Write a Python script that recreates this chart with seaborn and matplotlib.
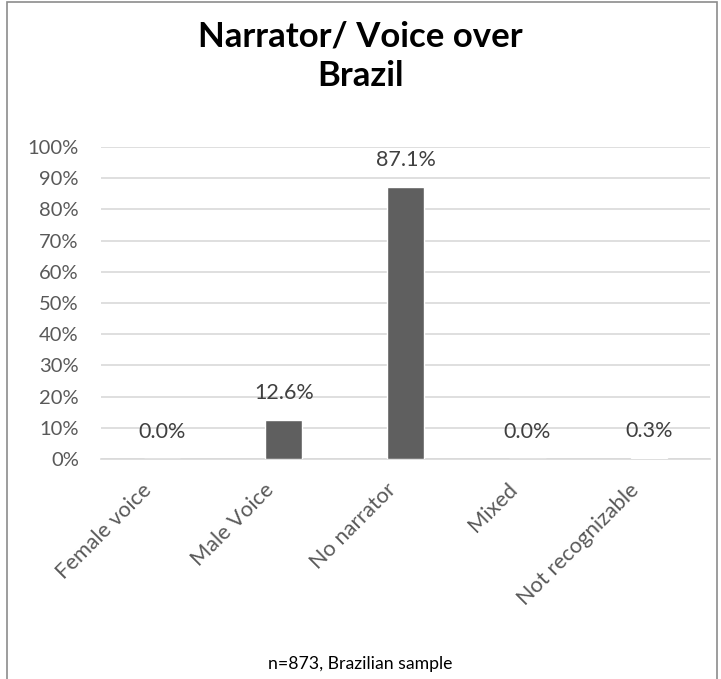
import matplotlib
matplotlib.use("Agg")
import matplotlib.pyplot as plt
import matplotlib.transforms as mtransforms
import seaborn as sns
import pandas as pd
from matplotlib.patches import Rectangle
from matplotlib.ticker import PercentFormatter

categories = ["Female voice", "Male Voice", "No narrator", "Mixed", "Not recognizable"]
shares = [0.0, 12.6, 87.1, 0.0, 0.3]
y_ticks = [0, 10, 20, 30, 40, 50, 60, 70, 80, 90, 100]

df = pd.DataFrame({"category": categories, "share": shares})

sns.set_theme(style="white")
plt.rcParams["font.family"] = ["Lato", "DejaVu Sans"]

W, H = 721, 679
fig = plt.figure(figsize=(W / 100, H / 100), dpi=100)
ax = fig.add_axes([101 / W, 1 - 459 / H, (710 - 101) / W, (459 - 147) / H])

sns.barplot(data=df, x="category", y="share", color="#5f5f5f", width=0.3,
            saturation=1, ax=ax, zorder=3)

ax.set_ylim(0, 100)
ax.set_yticks(y_ticks)
ax.yaxis.set_major_formatter(PercentFormatter(decimals=0))
ax.grid(axis="y", color="#d9d9d9", linewidth=1.2, zorder=0)
ax.set_axisbelow(True)
for side in ["left", "right", "top"]:
    ax.spines[side].set_visible(False)
ax.spines["bottom"].set_color("#d9d9d9")
ax.spines["bottom"].set_linewidth(1.2)
ax.set_xlabel("")
ax.set_ylabel("")
ax.tick_params(axis="y", length=0, labelsize=14.5, labelcolor="#595959", pad=16)
ax.tick_params(axis="x", length=0, labelsize=15.7, labelcolor="#595959", pad=20)

# rotated category labels, nudged so their ends sit under the category centres
shift = mtransforms.ScaledTranslation(-13 / 100, 0, fig.dpi_scale_trans)
for lbl in ax.get_xticklabels():
    lbl.set_rotation(45)
    lbl.set_ha("right")
    lbl.set_va("center")
    lbl.set_rotation_mode("anchor")
    lbl.set_transform(lbl.get_transform() + shift)

for i, v in enumerate(shares):
    ax.text(i, v + 5.5, f"{v:.1f}%", ha="center", va="bottom",
            fontsize=15.5, color="#404040")

fig.text(0.5, 1 - 36 / H, "Narrator/ Voice over", ha="center", va="center",
         fontsize=25, fontweight="bold", color="black")
fig.text(0.5, 1 - 76 / H, "Brazil", ha="center", va="center",
         fontsize=25, fontweight="bold", color="black")
fig.text(0.5, 1 - 664 / H, "n=873, Brazilian sample", ha="center", va="center",
         fontsize=12.7, color="#000000")

fig.patches.append(Rectangle((7 / W, -0.05), (717 - 7) / W, 1.05 - 2 / H,
                             transform=fig.transFigure, fill=False,
                             edgecolor="#8c8c8c", linewidth=1.2))

fig.savefig("out.png", dpi=100)
